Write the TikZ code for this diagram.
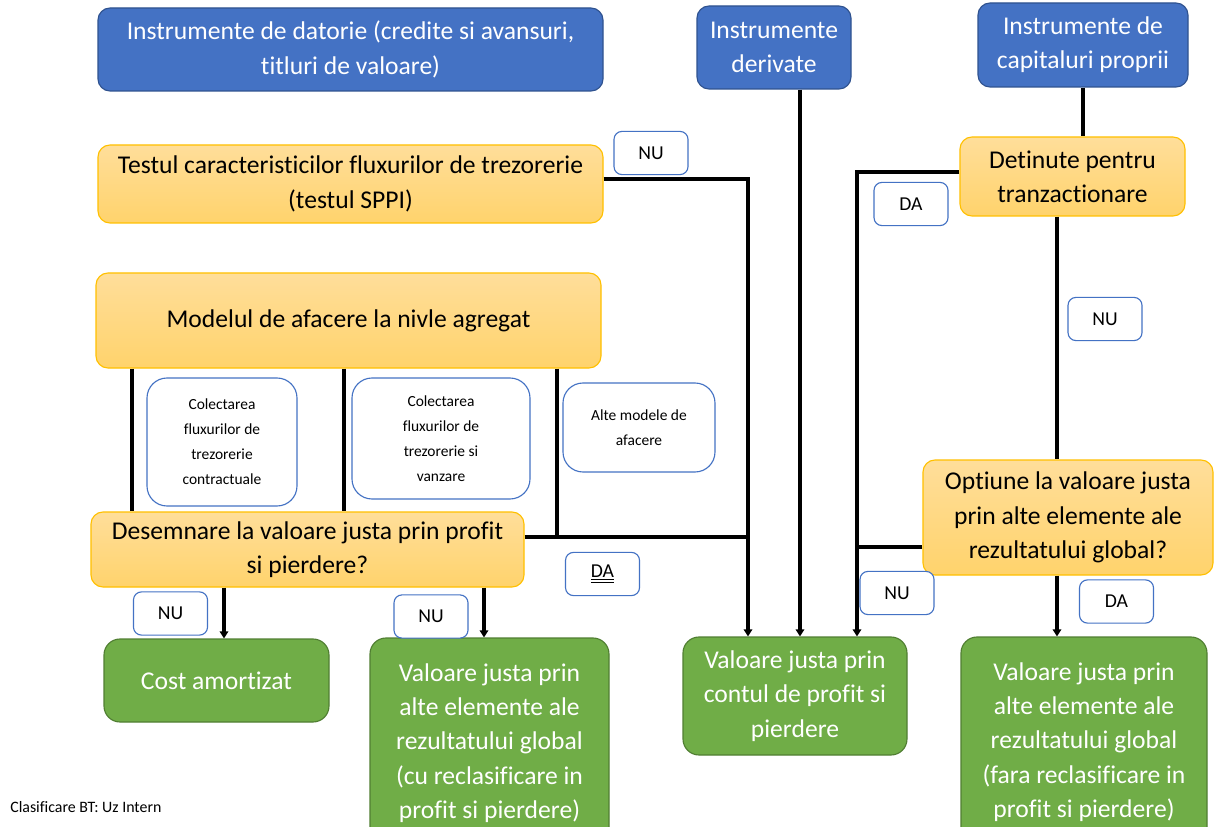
\documentclass[tikz,border=0pt]{standalone}
\usepackage{fontspec}
\setmainfont{Carlito}[Ligatures={NoCommon}]
\usepackage{xcolor}
\definecolor{mblue}{HTML}{4472C4}
\definecolor{mblueD}{HTML}{2F528F}
\definecolor{morT}{HTML}{FFDE9A}
\definecolor{morB}{HTML}{FFD36C}
\definecolor{morD}{HTML}{FFC000}
\definecolor{mgreen}{HTML}{70AD47}
\definecolor{mgreenD}{HTML}{507E32}
\usepackage{tikz}
\usetikzlibrary{arrows.meta,calc}

\begin{document}
\begin{tikzpicture}[x=0.025cm, y=-0.025cm,
    bigtxt/.style={font=\fontsize{18.2}{24.4}\selectfont, align=center},
    bluebox/.style 2 args={bigtxt, draw=mblueD, fill=mblue, text=white, line width=0.8pt,
        rounded corners=0.3cm, minimum width=#1*0.025cm, minimum height=#2*0.025cm},
    orbox/.style 2 args={bigtxt, draw=morD, top color=morT, bottom color=morB, line width=0.8pt,
        rounded corners=0.3cm, minimum width=#1*0.025cm, minimum height=#2*0.025cm},
    grbox/.style 2 args={bigtxt, draw=mgreenD, fill=mgreen, text=white, line width=0.8pt,
        rounded corners=0.4cm, minimum width=#1*0.025cm, minimum height=#2*0.025cm},
    modbox/.style 2 args={draw=mblue, fill=white, line width=0.8pt, rounded corners=0.5cm,
        font=\fontsize{11}{17.8}\selectfont, align=center,
        minimum width=#1*0.025cm, minimum height=#2*0.025cm},
    yn/.style={draw=mblue, fill=white, line width=0.8pt, rounded corners=0.2cm,
        font=\fontsize{14}{16}\selectfont, minimum width=1.85cm, minimum height=1.08cm},
    link/.style={line width=2.2pt},
    arr/.style={line width=2.2pt, -{Triangle[length=5pt,width=6pt]}}
  ]
  % canvas
  \fill[white] (0,0) rectangle (1219,827);
  \useasboundingbox (0,0) rectangle (1219,827);

  % top row: instrument types
  \node[bluebox={505}{83}] (debt) at (350.5,49.5) {Instrumente de datorie (credite si avansuri,\\titluri de valoare)};
  \node[bluebox={154}{83}] (deriv) at (774,47.5) {Instrumente\\derivate};
  \node[bluebox={210}{84}] (equity) at (1083,45) {Instrumente de\\capitaluri proprii};

  % tests and decisions
  \node[orbox={505}{78}] (sppi) at (350.5,184) {Testul caracteristicilor fluxurilor de trezorerie\\(testul SPPI)};
  \node[orbox={505}{95}] (model) at (348.5,320.5) {Modelul de afacere la nivle agregat};
  \node[orbox={433}{75}] (desemn) at (307.5,549.5) {Desemnare la valoare justa prin profit\\si pierdere?};
  \node[orbox={225}{79}] (held) at (1072.5,176.5) {Detinute pentru\\tranzactionare};
  \node[orbox={290}{115}] (optiune) at (1068,517.5) {Optiune la valoare justa\\prin alte elemente ale\\rezultatului global?};

  % business models
  \node[modbox={150}{128}] (mod1) at (222,442) {Colectarea\\fluxurilor de\\trezorerie\\contractuale};
  \node[modbox={178}{121}] (mod2) at (441,438.5) {Colectarea\\fluxurilor de\\trezorerie si\\vanzare};
  \node[modbox={152}{89}] (mod3) at (639,427.5) {Alte modele de\\afacere};

  % outcomes
  \node[grbox={225}{83}] (cost) at (216.5,680.5) {Cost amortizat};
  \node[grbox={239}{210}] (fvoci1) at (489.5,743) {Valoare justa prin\\alte elemente ale\\rezultatului global\\(cu reclasificare in\\profit si pierdere)};
  \node[grbox={224}{118}] (fvpl) at (795,696) {Valoare justa prin\\contul de profit si\\pierdere};
  \node[grbox={246}{210}] (fvoci2) at (1084,742) {Valoare justa prin\\alte elemente ale\\rezultatului global\\(fara reclasificare in\\profit si pierdere)};

  % yes / no labels
  \node[yn] (nu1) at (651,153) {NU};
  \node[yn] (da1) at (911,204) {DA};
  \node[yn] (nu2) at (1105,319) {NU};
  \node[yn] (da2) at (602.5,574) {\underline{\underline{DA}}};
  \node[yn] (nu3) at (897,593) {NU};
  \node[yn] (da3) at (1116.5,601.5) {DA};
  \node[yn] (nu4) at (170.5,613.5) {NU};
  \node[yn] (nu5) at (431,616.5) {NU};

  % junction points
  \coordinate (jS) at (748,179);
  \coordinate (jD) at (800,0);
  \coordinate (jH) at (857,172);
  \coordinate (jR) at (1057,0);
  \coordinate (jM) at (557,537);
  \coordinate (jO) at (0,547);
  \coordinate (b1) at (132,0);
  \coordinate (b2) at (344,0);
  \coordinate (a1) at (224,0);
  \coordinate (a2) at (484,0);

  % connectors
  \draw[arr] (sppi.east |- jS) -- (jS) -- (jS |- fvpl.north);
  \draw[arr] (jD |- deriv.south) -- (jD |- fvpl.north);
  \draw[arr] (held.west |- jH) -- (jH) -- (jH |- fvpl.north);
  \draw[link] (equity.south) -- (equity.south |- held.north);
  \draw[link] (jR |- held.south) -- (jR |- optiune.north);
  \draw[arr] (jR |- optiune.south) -- (jR |- fvoci2.north);
  \draw[link] (optiune.west |- jO) -- (jH |- jO);

  % business model branches
  \draw[link] (b1 |- model.south) -- (b1 |- desemn.north);
  \draw[link] (b2 |- model.south) -- (b2 |- desemn.north);
  \draw[link] (jM |- model.south) -- (jM);
  \draw[link] (desemn.east |- jM) -- (jS |- jM);
  \draw[arr] (a1 |- desemn.south) -- (a1 |- cost.north);
  \draw[arr] (a2 |- desemn.south) -- (a2 |- fvoci1.north);

  % footer
  \node[anchor=west, inner sep=0pt, font=\fontsize{11.3}{13}\selectfont] (foot) at (10,807) {Clasificare BT: Uz Intern};
\end{tikzpicture}
\end{document}
